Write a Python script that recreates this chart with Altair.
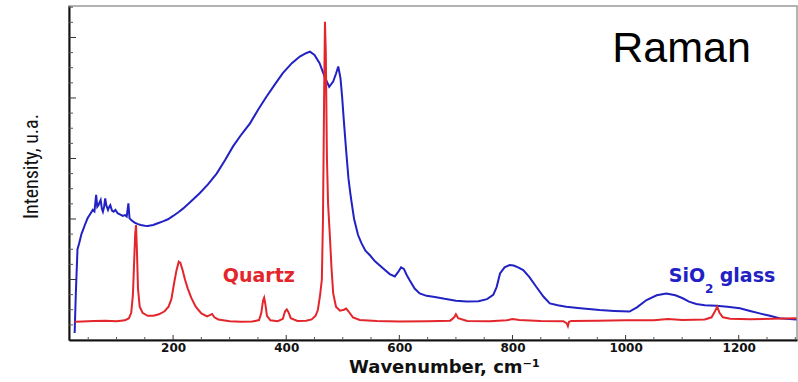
import altair as alt
import pandas as pd

# SiO2 glass spectrum (blue): wavenumber (cm-1) and intensity (a.u.)
glass_w = [26, 28, 31, 34, 38, 41, 45, 49, 53, 58, 61, 64, 66, 68, 70, 72, 74, 76, 78, 80,
           82, 85, 87, 89, 92, 95, 98, 102, 106, 111, 115, 118, 121, 123, 127, 132, 138, 143,
           150, 155, 165, 173, 182, 191, 200, 210, 218, 230, 247, 262, 277, 292, 306, 321,
           336, 350, 365, 380, 394, 410, 424, 435, 442, 450, 459, 468, 476, 483, 488, 492,
           496, 499, 502, 506, 510, 513, 516, 520, 527, 533, 540, 548, 557, 571, 583, 592,
           598, 603, 608, 613, 618, 627, 636, 648, 660, 680, 700, 719, 740, 755, 766, 772,
           778, 786, 795, 802, 810, 819, 830, 842, 855, 866, 880, 895, 920, 954, 980, 1007,
           1020, 1037, 1055, 1072, 1088, 1101, 1112, 1125, 1140, 1160, 1180, 1202, 1220,
           1237, 1255, 1272, 1290, 1302]
glass_v = [2.3, 15, 30, 32, 35, 36.5, 38.5, 40.3, 41.5, 43, 42.5, 48, 44, 44.5, 45.5, 46.3,
           43.5, 42.4, 44, 46.8, 44.5, 43, 44, 44.6, 42.8, 42.4, 43, 41.9, 41.5, 41, 41.3,
           40.8, 45.2, 40.2, 39.5, 38.8, 38.3, 38, 37.8, 37.7, 38, 38.6, 39.2, 39.9, 41, 42.3,
           43.5, 45.5, 48.5, 51.5, 55, 59.5, 64, 68, 71.6, 76, 80.4, 84.5, 88.2, 91.5, 93.7,
           94.8, 95.3, 94.2, 91.5, 87, 83.7, 85.4, 88, 90.4, 86.5, 80, 72.2, 62.5, 53.5, 49,
           45, 40, 34.7, 32, 29.5, 28, 26, 23.7, 21.8, 21, 22.5, 24, 23.5, 21.5, 19.8, 17,
           15.4, 14.6, 14.3, 13.6, 13, 12.7, 12.8, 13.5, 14.9, 17.5, 22, 24, 24.8, 24.6, 24,
           23.1, 20.8, 17.6, 14.3, 12.1, 11.5, 11, 10.5, 9.9, 9.6, 9.4, 10.8, 13.2, 14.8,
           15.4, 14.8, 13.8, 12.7, 11.9, 11.5, 11.3, 11, 10.5, 9.6, 8.8, 8, 7.2, 6.9, 6.8]

# Quartz spectrum (red)
quartz_w = [26, 40, 60, 80, 100, 115, 122, 126, 129, 131, 133, 134.5, 136, 138, 141, 146,
            155, 165, 175, 185, 192, 197, 202, 206, 210, 213, 217, 221, 226, 232, 240, 250,
            260, 266, 269, 273, 280, 300, 320, 340, 352, 356, 359, 361, 363, 366, 372, 385,
            394, 398, 401, 404, 408, 420, 435, 445, 452, 456, 460, 463, 465, 467, 468.5, 470,
            472, 474, 477, 480, 483, 488, 495, 502, 506, 510, 518, 530, 560, 600, 650, 690,
            697, 700, 704, 720, 760, 790, 800, 812, 850, 890, 896, 898, 900, 904, 950, 1000,
            1050, 1075, 1100, 1140, 1152, 1158, 1162, 1166, 1172, 1185, 1220, 1260, 1302]
quartz_v = [6, 6.1, 6.3, 6.4, 6.2, 6.5, 7.2, 9, 15, 25, 35, 38, 30, 17, 11, 9, 8, 8, 8.5,
            9.5, 11, 13.5, 19, 23, 25.9, 25.5, 23, 20, 17, 14, 11, 8.8, 7.8, 8.3, 8.6, 7.5,
            6.8, 6.2, 6, 6.1, 6.6, 9, 13, 14, 12, 8, 6.5, 6.2, 7, 9.5, 10.1, 9.2, 7.2, 6.3,
            6.4, 6.8, 8, 10, 15, 20, 40, 80, 105.2, 95, 60, 45, 35, 24, 15.5, 11, 9.7, 10,
            10.4, 9.5, 7.5, 6.6, 6.3, 6.1, 6.2, 6.4, 7.5, 8.5, 7.2, 6.3, 6.2, 6.5, 6.9, 6.6,
            6.3, 6.2, 5.5, 4.6, 6, 6.3, 6.4, 6.5, 6.5, 6.9, 6.6, 6.8, 7.5, 9.5, 11, 9, 7.5,
            7, 6.9, 7, 7.2]

x_labels = [200, 400, 600, 800, 1000, 1200]
x_minor = [50, 100, 150, 250, 300, 350, 450, 500, 550, 650, 700, 750, 850, 900, 950,
           1050, 1100, 1150, 1250, 1300]
y_major = [20, 40, 60, 80, 100]
y_minor = [5, 10, 15, 25, 30, 35, 45, 50, 55, 65, 70, 75, 85, 90, 95, 105, 110]

BLUE = "#2121c4"
RED = "#e3262b"
XDOM = [16, 1303]
YDOM = [0, 110.4]
W, H = 728, 334

xs = alt.Scale(domain=XDOM, nice=False, zero=False)
ys = alt.Scale(domain=YDOM, nice=False, zero=False)

glass = pd.DataFrame({"w": glass_w, "v": glass_v})
quartz = pd.DataFrame({"w": quartz_w, "v": quartz_v})

base_x = alt.X(
    "w:Q", scale=xs,
    axis=alt.Axis(values=x_labels, format="d", ticks=False, tickSize=0, grid=False,
                  domainColor="#111111", domainWidth=2,
                  labelFont="DejaVu Sans", labelFontWeight="bold", labelFontSize=12,
                  labelColor="#111111", labelPadding=2, labelFlush=False,
                  title="Wavenumber, cm⁻¹", titleFont="DejaVu Sans",
                  titleFontWeight="bold", titleFontSize=18, titleColor="#111111",
                  titleX=375, titleY=32, titleBaseline="alphabetic", titleAlign="center"),
)
base_y = alt.Y(
    "v:Q", scale=ys,
    axis=alt.Axis(labels=False, ticks=False, tickSize=0, grid=False,
                  domainColor="#111111", domainWidth=2,
                  title="Intensity, u.a.",
                  titleFont="Liberation Sans Narrow, Roboto Condensed, Liberation Sans, sans-serif",
                  titleFontWeight="normal", titleFontSize=20, titleColor="#111111",
                  titleX=-32, titleY=160, titleAngle=270, titleBaseline="alphabetic",
                  titleAlign="center"),
)

glass_line = alt.Chart(glass).mark_line(color=BLUE, strokeWidth=2).encode(x=base_x, y=base_y)
quartz_line = alt.Chart(quartz).mark_line(color=RED, strokeWidth=2).encode(
    x=alt.X("w:Q", scale=xs), y=alt.Y("v:Q", scale=ys))

xmaj = alt.Chart(pd.DataFrame({"t": x_labels})).mark_rule(color="#333333", strokeWidth=1).encode(
    x=alt.X("t:Q", scale=xs), y=alt.value(H), y2=alt.value(H - 5))
xmin = alt.Chart(pd.DataFrame({"t": x_minor})).mark_rule(color="#555555", strokeWidth=1).encode(
    x=alt.X("t:Q", scale=xs), y=alt.value(H), y2=alt.value(H - 3))
ymaj = alt.Chart(pd.DataFrame({"t": y_major})).mark_rule(color="#333333", strokeWidth=1).encode(
    y=alt.Y("t:Q", scale=ys), x=alt.value(0), x2=alt.value(7))
ymin = alt.Chart(pd.DataFrame({"t": y_minor})).mark_rule(color="#555555", strokeWidth=1).encode(
    y=alt.Y("t:Q", scale=ys), x=alt.value(0), x2=alt.value(4))

raman = alt.Chart(pd.DataFrame({"w": [1098.8], "v": [92], "s": ["Raman"]})).mark_text(
    font="Liberation Sans", fontSize=43, color="#000000", align="center", baseline="alphabetic"
).encode(x=alt.X("w:Q", scale=xs), y=alt.Y("v:Q", scale=ys), text="s:N")

quartz_lbl = alt.Chart(pd.DataFrame({"w": [351.5], "v": [19.3], "s": ["Quartz"]})).mark_text(
    font="DejaVu Sans", fontWeight="bold", fontSize=19, color=RED, align="center",
    baseline="alphabetic"
).encode(x=alt.X("w:Q", scale=xs), y=alt.Y("v:Q", scale=ys), text="s:N")

sio_lbl = alt.Chart(pd.DataFrame({"w": [1076.2, 1166.4], "v": [19.1, 19.1],
                                   "s": ["SiO", "glass"]})).mark_text(
    font="DejaVu Sans", fontWeight="bold", fontSize=19, color=BLUE, align="left",
    baseline="alphabetic"
).encode(x=alt.X("w:Q", scale=xs), y=alt.Y("v:Q", scale=ys), text="s:N")

sub_lbl = alt.Chart(pd.DataFrame({"w": [1140.4], "v": [15.7], "s": ["2"]})).mark_text(
    font="DejaVu Sans", fontWeight="bold", fontSize=12, color=BLUE, align="left",
    baseline="alphabetic"
).encode(x=alt.X("w:Q", scale=xs), y=alt.Y("v:Q", scale=ys), text="s:N")

chart = alt.layer(
    glass_line, quartz_line, xmaj, xmin, ymaj, ymin, raman, quartz_lbl, sio_lbl, sub_lbl
).properties(
    width=W, height=H,
    autosize=alt.AutoSizeParams(type="none"),
    padding={"left": 69, "top": 6, "right": 1, "bottom": 42},
    background="white",
).configure_view(stroke="#9a9a9a", strokeWidth=1.5)

chart.save("out.html", embed_options={"renderer": "svg", "actions": False})
